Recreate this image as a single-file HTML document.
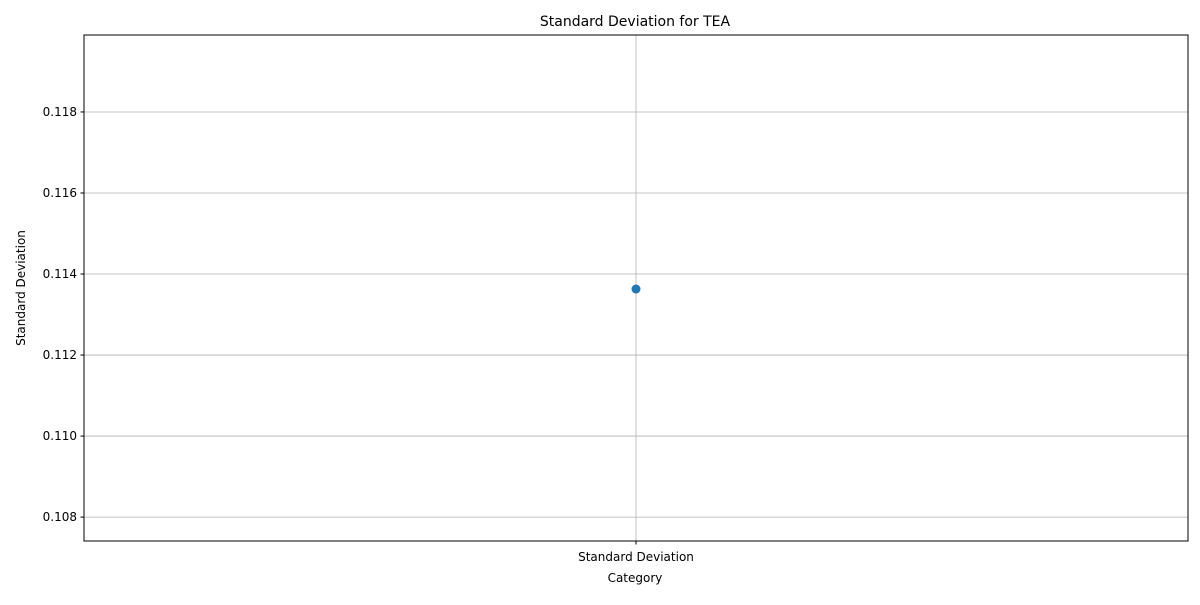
<!DOCTYPE html>
<html><head><meta charset="utf-8"><style>
body{margin:0;background:#fff;font-family:"Liberation Sans","DejaVu Sans",sans-serif;}
svg text{font-family:"DejaVu Sans","Liberation Sans",sans-serif;}
</style></head><body>
<svg id="chart" width="1200" height="600">
<text x="635" y="26" font-size="14" text-anchor="middle">Standard Deviation for TEA</text>
<g id="grid"></g>
<g id="yticks"></g>
<g id="xticks"></g>
<rect x="84" y="35" width="1104" height="506" fill="none" stroke="#000" stroke-width="1"/>
<g id="marks"></g>
<text x="635" y="582" font-size="12" text-anchor="middle">Category</text>
<text transform="translate(25,288) rotate(-90)" font-size="12" text-anchor="middle">Standard Deviation</text>
</svg>
<script>
const categories = ["Standard Deviation"];
const values = [0.11363];
const yTicks = [0.108, 0.110, 0.112, 0.114, 0.116, 0.118];
const yTickLabels = ["0.108", "0.110", "0.112", "0.114", "0.116", "0.118"];
const L=84,R=1188,T=35,B=541, yMin=0.10741, yMax=0.11990;
const NS="http://www.w3.org/2000/svg";
function y(v){return B-(v-yMin)/(yMax-yMin)*(B-T);}
function x(i){return L+(R-L)*(i+0.5)/categories.length;}
function mk(tag,attrs,parent){const e=document.createElementNS(NS,tag);for(const k in attrs)e.setAttribute(k,attrs[k]);document.getElementById(parent).appendChild(e);return e;}
yTicks.forEach((t,i)=>{
  const g=mk("line",{x1:L,x2:R,y1:y(t),y2:y(t),stroke:"#b0b0b0","stroke-width":0.8},"grid");
  
  
  const tk=mk("line",{x1:L-3.5,x2:L,y1:y(t),y2:y(t),stroke:"#000"},"yticks");
  
  
  const tx=mk("text",{x:L-7,y:y(t)+4,"font-size":12,"text-anchor":"end"},"yticks");
  tx.textContent=yTickLabels[i];
  
  
});
categories.forEach((c,i)=>{
  const g=mk("line",{x1:x(i),x2:x(i),y1:T,y2:B,stroke:"#b0b0b0","stroke-width":0.8},"grid");
  
  
  const tk=mk("line",{x1:x(i),x2:x(i),y1:B,y2:B+3.5,stroke:"#000"},"xticks");
  
  
  const tx=mk("text",{x:x(i),y:B+20,"font-size":12,"text-anchor":"middle"},"xticks");
  tx.textContent=c;
  
  
});
values.forEach((v,i)=>{
  const p=mk("circle",{cx:x(i),cy:y(v),r:4.5,fill:"#1f77b4"},"marks");
  
  
});
</script>
</body></html>
